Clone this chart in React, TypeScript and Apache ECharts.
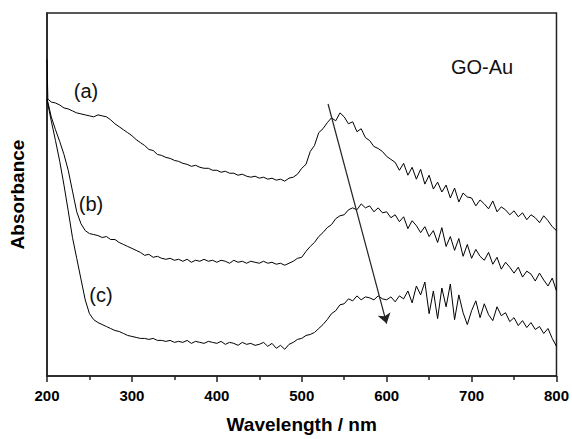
import React, { useEffect, useRef } from "react";
import * as echarts from "echarts";

// Wavelength grid (nm): 200, 201, then every 5 nm up to 800
const wavelengths: number[] = [200, 201, ...Array.from({ length: 120 }, (_, i) => 205 + 5 * i)];

// Absorbance (arbitrary units, offset curves)
const seriesA: number[] = [
  320, 280,
  277, 276, 274, 271, 270, 268, 266, 265, 264,
  263, 262, 264, 263, 262, 259, 255, 252, 249, 246,
  243, 239, 236, 233, 229, 228, 224, 223, 221, 220,
  218, 217, 215, 214, 212, 213, 211, 210, 210, 208,
  208, 206, 207, 205, 205, 203, 204, 202, 201, 202,
  200, 201, 199, 200, 198, 199, 197, 200, 201, 204,
  210, 214, 227, 233, 246, 250, 256, 261, 258, 266,
  262, 255, 257, 247, 250, 241, 238, 232, 230, 227,
  222, 219, 216, 208, 215, 203, 211, 199, 209, 194,
  203, 189, 196, 186, 193, 180, 190, 176, 185, 181,
  180, 172, 178, 174, 169, 177, 166, 171, 168, 163,
  167, 161, 165, 158, 163, 160, 155, 162, 157, 151,
  147,
];

const seriesB: number[] = [
  280, 277,
  262, 249, 237, 224, 208, 187, 166, 154, 147,
  144, 143, 142, 140, 141, 138, 138, 135, 133, 131,
  129, 127, 125, 122, 123, 120, 121, 119, 118, 119,
  117, 118, 116, 118, 115, 117, 116, 118, 116, 117,
  115, 117, 116, 114, 117, 115, 116, 114, 116, 115,
  114, 116, 114, 115, 113, 114, 112, 114, 116, 119,
  120, 126, 131, 135, 141, 145, 150, 153, 159, 162,
  163, 168, 170, 168, 174, 170, 172, 166, 170, 165,
  166, 160, 163, 156, 161, 149, 157, 152, 145, 151,
  141, 147, 135, 150, 131, 141, 127, 139, 121, 133,
  119, 128, 121, 117, 125, 113, 120, 108, 115, 110,
  104, 110, 100, 106, 103, 96, 104, 97, 91, 99,
  86,
];

const seriesC: number[] = [
  280, 275,
  258, 238, 217, 193, 167, 140, 119, 98, 77,
  63, 57, 54, 52, 50, 48, 46, 45, 43, 41,
  40, 39, 38, 38, 37, 38, 36, 36, 35, 36,
  34, 35, 34, 36, 33, 35, 34, 33, 35, 34,
  33, 35, 32, 34, 33, 31, 34, 32, 33, 31,
  32, 34, 30, 33, 28, 31, 27, 32, 34, 37,
  38, 41, 42, 44, 48, 52, 57, 63, 66, 72,
  73, 78, 76, 81, 77, 80, 79, 77, 81, 78,
  77, 80, 75, 81, 78, 86, 74, 91, 82, 95,
  63, 86, 58, 89, 70, 93, 57, 82, 64, 52,
  66, 76, 59, 73, 62, 56, 70, 61, 64, 55,
  59, 51, 56, 49, 54, 47, 50, 43, 48, 38,
  30,
];

const xTicks = { min: 200, max: 800, interval: 100 };
const curveLabels = ["(a)", "(b)", "(c)"];
const sampleLabel = "GO-Au";

export default function App() {
  const ref = useRef<HTMLDivElement>(null);
  useEffect(() => {
    if (!ref.current) return;
    const chart = echarts.init(ref.current, undefined, { renderer: "svg" });
    const mk = (vals: number[]) => wavelengths.map((w, i) => [w, vals[i]]);
    const font = "'Liberation Sans', Arial, sans-serif";
    const lineStyle = { color: "#000", width: 1 };
    const txt = (text: string, x: number, y: number) => ({
      type: "text",
      x,
      y,
      style: { text, font: `20px ${font}`, fill: "#111", align: "center", verticalAlign: "middle" },
    });
    chart.setOption({
      animation: false,
      backgroundColor: "#fff",
      grid: {
        left: 47,
        right: 14,
        top: 13,
        bottom: 59,
        show: true,
        borderColor: "#222",
        borderWidth: 1.5,
      },
      xAxis: {
        type: "value",
        min: xTicks.min,
        max: xTicks.max,
        interval: xTicks.interval,
        name: "Wavelength / nm",
        nameLocation: "middle",
        nameGap: 39,
        nameTextStyle: { fontFamily: font, fontWeight: "bold", fontSize: 19, color: "#000" },
        axisLine: { show: true, onZero: false, lineStyle: { color: "#222", width: 1.5 } },
        axisTick: { show: true, inside: false, length: 6, lineStyle: { color: "#222", width: 1.5 } },
        minorTick: { show: true, splitNumber: 2, length: 4, lineStyle: { color: "#222", width: 1.5 } },
        axisLabel: { fontFamily: font, fontWeight: "bold", fontSize: 15, color: "#000", margin: 12 },
        splitLine: { show: false },
        minorSplitLine: { show: false },
      },
      yAxis: {
        type: "value",
        min: 0,
        max: 367,
        name: "Absorbance",
        nameLocation: "middle",
        nameGap: 20,
        nameTextStyle: { fontFamily: font, fontWeight: "bold", fontSize: 19, color: "#000" },
        axisLine: { show: true, onZero: false, lineStyle: { color: "#222", width: 1.5 } },
        axisTick: { show: false },
        axisLabel: { show: false },
        splitLine: { show: false },
      },
      series: [
        {
          type: "line",
          name: curveLabels[0],
          data: mk(seriesA),
          showSymbol: false,
          lineStyle,
          markLine: {
            silent: true,
            symbol: ["none", "arrow"],
            symbolSize: 10,
            label: { show: false },
            lineStyle: { color: "#222", width: 1.2, type: "solid" },
            data: [[{ coord: [531, 275] }, { coord: [600, 53] }]],
          },
        },
        { type: "line", name: curveLabels[1], data: mk(seriesB), showSymbol: false, lineStyle },
        { type: "line", name: curveLabels[2], data: mk(seriesC), showSymbol: false, lineStyle },
      ],
      graphic: [
        txt(curveLabels[0], 86, 91),
        txt(curveLabels[1], 91, 204),
        txt(curveLabels[2], 101, 295),
        txt(sampleLabel, 482, 67),
      ],
    });
    return () => chart.dispose();
  }, []);
  return (
    <div
      ref={ref}
      style={{ position: "fixed", left: 0, top: 0, width: 572, height: 439, background: "#fff" }}
    />
  );
}
